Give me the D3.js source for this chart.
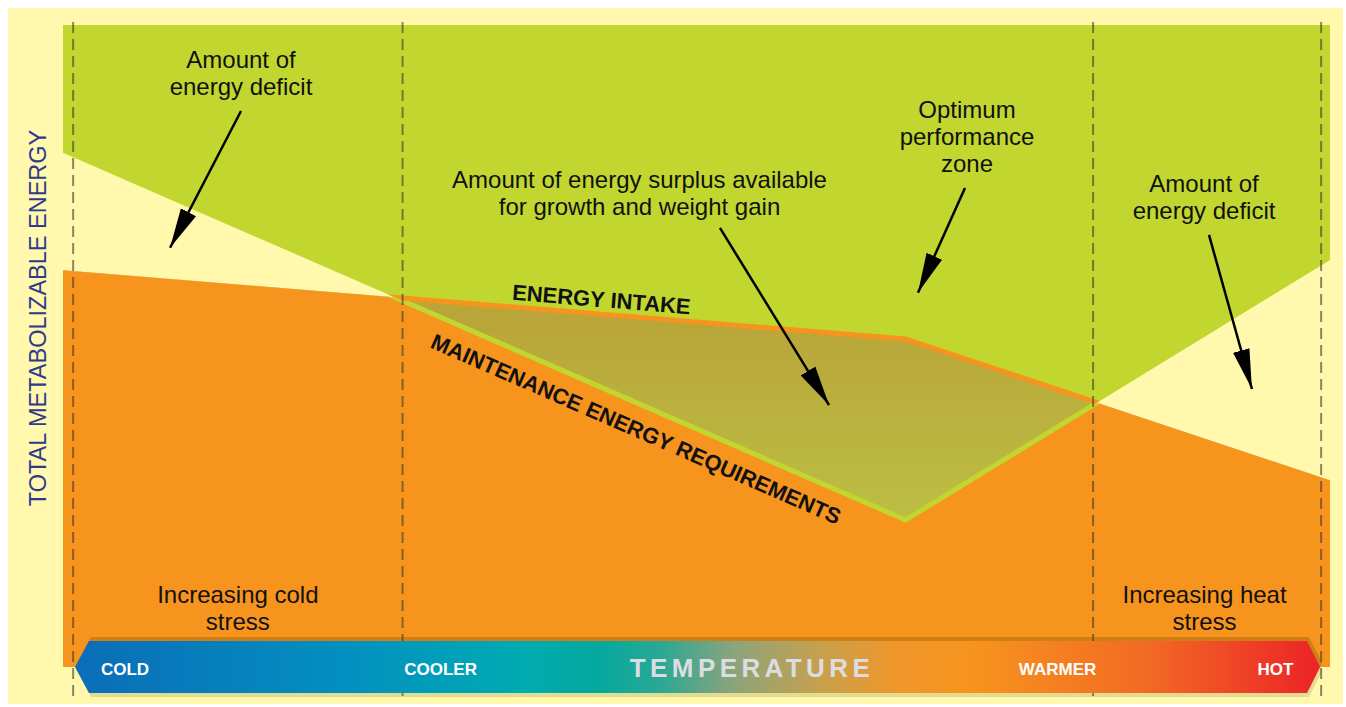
<!DOCTYPE html>
<html>
<head>
<meta charset="utf-8">
<script src="https://cdn.jsdelivr.net/npm/d3@7"></script>
<style>
  body { margin: 0; background: #fff; }
  svg { display: block; font-family: "Liberation Sans", Arial, sans-serif; }
</style>
</head>
<body>
<svg id="chart" width="1346" height="707"></svg>
<script>
// relative temperature (0 = coldest, 100 = hottest) and relative energy (0-100)
const tempPoints = [0, 66.5, 100];
const energyIntake = [61.8, 51.1, 29.1];
const maintenance = [80.1, 22.9, 63.4];

// zone boundaries (dashed lines)
const zoneBounds = [0.8, 26.8, 81.3, 99.3];

// temperature bar labels
const tempLabels = ["COLD", "COOLER", "WARMER", "HOT"];
const tempLabelPos = [4.9, 29.8, 78.5, 95.7];

// annotation texts: [x, first baseline y, lines]
const notes = [
  [14.05, 93.3, ["Amount of", "energy deficit"]],
  [45.5, 74.6, ["Amount of energy surplus available", "for growth and weight gain"]],
  [71.35, 85.5, ["Optimum", "performance", "zone"]],
  [90.06, 74.0, ["Amount of", "energy deficit"]],
  [13.8, 10.0, ["Increasing cold", "stress"]],
  [90.1, 10.0, ["Increasing heat", "stress"]],
];
// arrows: [x1, y1, x2, y2]
const arrows = [
  [14.05, 86.6, 8.45, 65.3],
  [51.85, 68.4, 60.46, 40.8],
  [71.19, 74.6, 67.48, 58.3],
  [90.45, 67.3, 93.84, 43.3],
];

const rows = tempPoints.map((t, i) => ({ t, intake: energyIntake[i], maint: maintenance[i] }));

const svg = d3.select("#chart");
const x = d3.scaleLinear().domain([0, 100]).range([63, 1330]);
const y = d3.scaleLinear().domain([0, 100]).range([667, 25]);

const green = "#c1d730", orange = "#f7941e", cream = "#fff8ad";

const defs = svg.append("defs");

// surplus gradient
const sg = defs.append("linearGradient").attr("id", "surplus")
  .attr("x1", 0).attr("y1", 0).attr("x2", 0).attr("y2", 1);
sg.append("stop").attr("offset", "0%").attr("stop-color", "#c7a836");
sg.append("stop").attr("offset", "45%").attr("stop-color", "#b9a539");
sg.append("stop").attr("offset", "100%").attr("stop-color", "#bcbe44");

// temperature gradient
const tg = defs.append("linearGradient").attr("id", "temp")
  .attr("x1", 0).attr("y1", 0).attr("x2", 1).attr("y2", 0);
[["0%", "#0b6db8"], ["22%", "#0290c0"], ["36%", "#00abb2"], ["42%", "#04a89e"],
 ["47%", "#2aa895"], ["53%", "#8da47a"], ["60%", "#c8a04c"], ["66%", "#f0962a"],
 ["72%", "#f7941d"], ["86%", "#f26a24"], ["100%", "#ec2327"]]
  .forEach(([o, c]) => tg.append("stop").attr("offset", o).attr("stop-color", c));

// arrowhead
defs.append("marker").attr("id", "head")
  .attr("markerUnits", "userSpaceOnUse")
  .attr("viewBox", "0 -9 40 18")
  .attr("markerWidth", 40).attr("markerHeight", 18)
  .attr("refX", 40).attr("refY", 0).attr("orient", "auto")
  .append("path").attr("d", "M0,-8.5L40,0L0,8.5Z").attr("fill", "#000");

const underIntake = d3.area().x(d => x(d.t)).y0(y(0)).y1(d => y(d.intake));
const aboveMaint = d3.area().x(d => x(d.t)).y0(y(100)).y1(d => y(d.maint));

defs.append("clipPath").attr("id", "clipUnder").append("path").attr("d", underIntake(rows));
defs.append("clipPath").attr("id", "clipAbove").append("path").attr("d", aboveMaint(rows));

// background
svg.append("rect").attr("x", 8).attr("y", 8).attr("width", 1335).attr("height", 696).attr("fill", cream);

// green zone (above maintenance) and orange zone (below intake)
svg.append("path").attr("d", aboveMaint(rows)).attr("fill", green);
svg.append("path").attr("d", underIntake(rows)).attr("fill", orange);

// surplus between the two lines
const between = d3.area().x(d => x(d.t)).y0(d => y(d.maint)).y1(d => y(d.intake));
svg.append("path").attr("d", between(rows)).attr("clip-path", "url(#clipUnder)")
  .attr("fill", "url(#surplus)");

const line = key => d3.line().x(d => x(d.t)).y(d => y(d[key]));
svg.append("path").attr("d", line("maint")(rows)).attr("clip-path", "url(#clipUnder)")
  .attr("fill", "none").attr("stroke", green).attr("stroke-width", 5);
svg.append("path").attr("d", line("intake")(rows)).attr("clip-path", "url(#clipAbove)")
  .attr("fill", "none").attr("stroke", orange).attr("stroke-width", 5);

// zone dashed lines
svg.append("g").selectAll("line").data(zoneBounds).enter().append("line")
  .attr("x1", d => x(d)).attr("x2", d => x(d))
  .attr("y1", 22).attr("y2", 700)
  .attr("stroke", "#3c3c28").attr("stroke-opacity", 0.6)
  .attr("stroke-width", 2).attr("stroke-dasharray", "11,6");

// temperature bar
const barL = 75, barL2 = 89, barR2 = 1307, barR = 1320, barT = 641, barB = 693;
const barMid = (barT + barB) / 2;
const barPts = [[barL, barMid], [barL2, barT], [barR2, barT], [barR, barMid], [barR2, barB], [barL2, barB]];
svg.append("polygon").attr("points", barPts.map(p => [p[0] + 2, p[1] - 4]).join(" "))
  .attr("fill", "#5a3a00").attr("fill-opacity", 0.25);
svg.append("polygon").attr("points", barPts.map(p => [p[0] + 2, p[1] + 4]).join(" "))
  .attr("fill", "#5a5000").attr("fill-opacity", 0.16);
svg.append("polygon").attr("points", barPts.join(" ")).attr("fill", "url(#temp)");

svg.append("g").selectAll("text").data(tempLabels).enter().append("text")
  .attr("x", (d, i) => x(tempLabelPos[i])).attr("y", 675)
  .attr("text-anchor", "middle").attr("fill", "#fff")
  .attr("font-weight", "bold").attr("font-size", 17).text(d => d);

svg.append("text").attr("x", 752).attr("y", 677).attr("text-anchor", "middle")
  .attr("fill", "#dcdde2").attr("font-weight", "bold").attr("font-size", 26)
  .attr("letter-spacing", 4.4).text("TEMPERATURE");

// y axis title
svg.append("text").attr("transform", "translate(46,318) rotate(-90)")
  .attr("text-anchor", "middle").attr("fill", "#2e3a8f").attr("font-size", 23.5)
  .text("TOTAL METABOLIZABLE ENERGY");

// line labels, rotated along their lines
const labelOnLine = (key, t, offset, text) => {
  const i = t < tempPoints[1] ? 0 : 1;
  const ax = x(tempPoints[i]), ay = y(rows[i][key]);
  const bx = x(tempPoints[i + 1]), by = y(rows[i + 1][key]);
  const ang = Math.atan2(by - ay, bx - ax);
  const px = x(t), py = ay + (by - ay) * (px - ax) / (bx - ax);
  const ox = -Math.sin(ang) * offset, oy = Math.cos(ang) * offset;
  svg.append("text")
    .attr("transform", `translate(${px + ox},${py + oy}) rotate(${ang * 180 / Math.PI})`)
    .attr("text-anchor", "middle").attr("font-weight", "bold").attr("font-size", 22)
    .attr("fill", "#111").text(text);
};
labelOnLine("intake", 42.4, -7, "ENERGY INTAKE");
labelOnLine("maint", 46.0, 32, "MAINTENANCE ENERGY REQUIREMENTS");

// annotations
notes.forEach(([nx, ny, lines]) => {
  const t = svg.append("text").attr("x", x(nx)).attr("y", y(ny))
    .attr("text-anchor", "middle").attr("font-size", 24).attr("fill", "#111");
  lines.forEach((l, i) => t.append("tspan").attr("x", x(nx)).attr("dy", i ? 27 : 0).text(l));
});

svg.append("g").selectAll("line").data(arrows).enter().append("line")
  .attr("x1", d => x(d[0])).attr("y1", d => y(d[1]))
  .attr("x2", d => x(d[2])).attr("y2", d => y(d[3]))
  .attr("stroke", "#000").attr("stroke-width", 2.5)
  .attr("marker-end", "url(#head)");
</script>
</body>
</html>
